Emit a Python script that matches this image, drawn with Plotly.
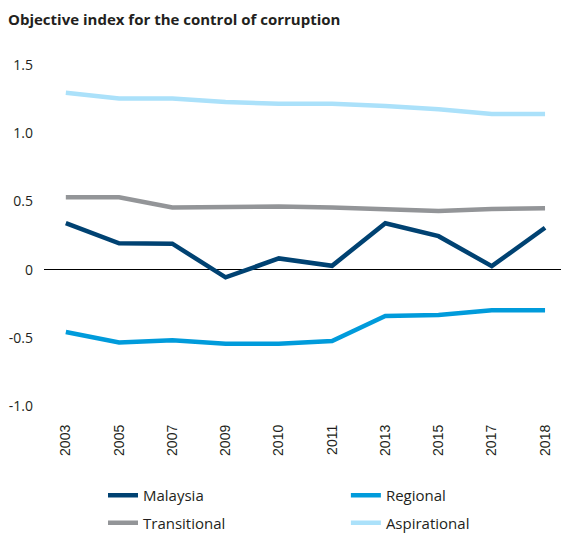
import plotly.graph_objects as go

years = ["2003", "2005", "2007", "2009", "2010", "2011", "2013", "2015", "2017", "2018"]
malaysia = [0.34, 0.193, 0.19, -0.057, 0.082, 0.028, 0.34, 0.245, 0.025, 0.307]
regional = [-0.457, -0.535, -0.518, -0.543, -0.543, -0.523, -0.34, -0.332, -0.298, -0.298]
transitional = [0.531, 0.531, 0.455, 0.462, 0.462, 0.455, 0.443, 0.43, 0.445, 0.45]
aspirational = [1.296, 1.254, 1.254, 1.229, 1.215, 1.215, 1.2, 1.175, 1.14, 1.14]

series = [
    ("Malaysia", malaysia, "#004272", "legend"),
    ("Regional", regional, "#009BDB", "legend2"),
    ("Transitional", transitional, "#939598", "legend"),
    ("Aspirational", aspirational, "#ABE1FA", "legend2"),
]

FONT = "Open Sans, Noto Sans, sans-serif"
W, H = 569, 534

fig = go.Figure()
for name, vals, color, lg in series:
    fig.add_trace(go.Scatter(
        x=list(range(len(years))), y=vals, name=name, mode="lines",
        line=dict(color=color, width=4.5), legend=lg, legendgroup=name,
    ))

leg_top = (H - 471) / H
leg_common = dict(orientation="v", yanchor="top", yref="container", y=leg_top,
                  font=dict(family=FONT, size=15, color="#231f20"),
                  tracegroupgap=5, bgcolor="rgba(0,0,0,0)")

fig.update_layout(
    width=W, height=H,
    margin=dict(l=36, r=8, t=57, b=136, autoexpand=False),
    plot_bgcolor="white", paper_bgcolor="white",
    font=dict(family=FONT, size=14, color="#231f20"),
    title=dict(text="<b>Objective index for the control of corruption</b>",
               x=0.0, xanchor="left", xref="container",
               y=(H - 12) / H, yanchor="middle",
               font=dict(family=FONT, size=15, color="#231f20")),
    showlegend=True,
    legend=dict(x=0.1124, xanchor="left", **leg_common),
    legend2=dict(x=0.575, xanchor="left", **leg_common),
    xaxis=dict(
        tickmode="array", tickvals=list(range(len(years))), ticktext=years,
        range=[-0.41, 9.45], showgrid=False, zeroline=False, showline=False,
        tickangle=-90, ticklabelstandoff=15,
        tickfont=dict(family="Liberation Sans, Arial, sans-serif", size=14, color="#231f20"),
    ),
    yaxis=dict(
        range=[-1.0, 1.5], tickvals=[1.5, 1.0, 0.5, 0, -0.5, -1.0],
        ticktext=["1.5", "1.0", "0.5", "0", "-0.5", "-1.0"],
        showgrid=False, showline=False, zeroline=True, zerolinecolor="#000000",
        zerolinewidth=1, ticklabelstandoff=10,
        tickfont=dict(family=FONT, size=14, color="#231f20"),
    ),
)

fig.write_html("out.html")
